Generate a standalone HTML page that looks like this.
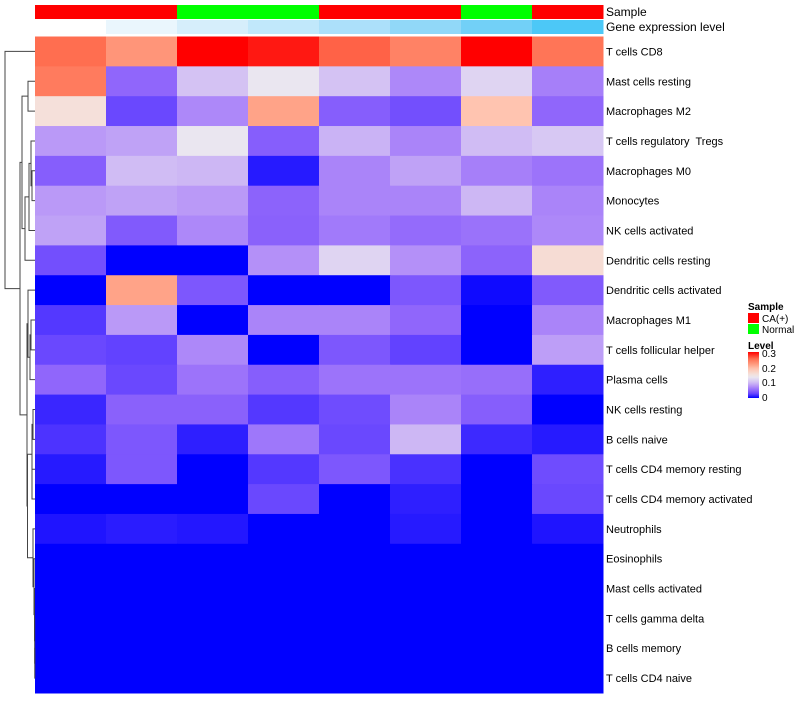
<!DOCTYPE html>
<html><head><meta charset="utf-8"><style>
body{margin:0;background:#fff;font-family:"Liberation Sans",sans-serif}
text{white-space:pre}
</style></head><body>
<svg width="800" height="700" xmlns="http://www.w3.org/2000/svg">
<defs><linearGradient id="lg" x1="0" y1="1" x2="0" y2="0"></linearGradient></defs>
<g id="hm"></g>
<g id="ann"></g>
<g id="dend" fill="none" stroke="#444" stroke-width="1"></g>
<g id="labels" font-size="11" fill="#000"></g>
<text x="606" y="16" font-size="12">Sample</text>
<text x="606" y="31" font-size="12">Gene expression level</text>
<g font-size="10">
<text x="748" y="310" font-weight="bold">Sample</text>
<rect x="748" y="313" width="11" height="10" fill="#ff0000"/>
<text x="762" y="322">CA(+)</text>
<rect x="748" y="324" width="11" height="10" fill="#00ff00"/>
<text x="762" y="333">Normal</text>
<text x="748" y="349" font-weight="bold">Level</text>
<rect x="748" y="352" width="11" height="46" fill="url(#lg)"/>
<text x="762" y="357">0.3</text>
<text x="762" y="372">0.2</text>
<text x="762" y="386">0.1</text>
<text x="762" y="401">0</text>
</g>
</svg>
<script>
const rowNames=["T cells CD8","Mast cells resting","Macrophages M2","T cells regulatory  Tregs","Macrophages M0","Monocytes","NK cells activated","Dendritic cells resting","Dendritic cells activated","Macrophages M1","T cells follicular helper","Plasma cells","NK cells resting","B cells naive","T cells CD4 memory resting","T cells CD4 memory activated","Neutrophils","Eosinophils","Mast cells activated","T cells gamma delta","B cells memory","T cells CD4 naive"];
const values=[
[0.255,0.225,0.3,0.29,0.26,0.24,0.3,0.25],
[0.245,0.05,0.105,0.135,0.105,0.07,0.12,0.065],
[0.155,0.03,0.07,0.215,0.045,0.035,0.19,0.05],
[0.08,0.085,0.135,0.045,0.095,0.068,0.1,0.11],
[0.045,0.1,0.097,0.01,0.068,0.085,0.065,0.058],
[0.08,0.085,0.08,0.048,0.068,0.068,0.097,0.068],
[0.085,0.042,0.07,0.047,0.062,0.053,0.057,0.07],
[0.035,0,0,0.075,0.12,0.075,0.048,0.16],
[0,0.215,0.04,0,0,0.04,0.004,0.042],
[0.022,0.08,0,0.068,0.068,0.05,0,0.068],
[0.03,0.026,0.07,0,0.04,0.026,0,0.083],
[0.05,0.03,0.058,0.045,0.058,0.058,0.055,0.012],
[0.015,0.047,0.047,0.022,0.033,0.068,0.045,0],
[0.02,0.04,0.012,0.06,0.03,0.097,0.016,0.01],
[0.01,0.04,0,0.022,0.04,0.019,0,0.033],
[0,0,0,0.03,0,0.012,0,0.03],
[0.008,0.011,0.009,0,0,0.01,0,0.008],
[0,0,0,0,0,0,0,0],[0,0,0,0,0,0,0,0],[0,0,0,0,0,0,0,0],[0,0,0,0,0,0,0,0],[0,0,0,0,0,0,0,0]];
const sampleGroups=["CA(+)","CA(+)","Normal","Normal","CA(+)","CA(+)","Normal","CA(+)"];
const geneLevels=[0,1,2,3,4,5,6,7];
const tree=[5,0,[20,[22,[28,1,2],[25,[29,[31,3,[32,4,5]],6],7]],[27,[28,8,[30,[31,9,10],11]],[27.5,[32,[33,12,13],[32,14,15]],[33,16,[34,17,[34.5,18,[34.7,19,[34.8,20,21]]]]]]]]];

const NS="http://www.w3.org/2000/svg";
const x0=35,colW=71,y0=36.5,rowH=(693-36.5)/22,vmax=0.3;
const xPos=c=>x0+c*colW, yPos=r=>y0+r*rowH;
// colour scale anchors (palette)
const stopsV=[0,0.025,0.05,0.075,0.1,0.135,0.155,0.19,0.22,0.255,0.3];
const stopsC=[[0,0,255],[96,64,255],[144,102,251],[180,144,248],[208,188,244],[234,230,240],[245,224,218],[255,196,176],[255,156,128],[255,110,80],[255,0,0]];
function color(v){v=Math.max(0,Math.min(vmax,v));
 for(let i=1;i<stopsV.length;i++){if(v<=stopsV[i]){const u=(v-stopsV[i-1])/(stopsV[i]-stopsV[i-1]);
  const c=stopsC[i-1].map((a,k)=>Math.round(a+(stopsC[i][k]-a)*u));return `rgb(${c})`;}}
 return 'rgb(255,0,0)';}
function mk(tag,attrs,parent){const e=document.createElementNS(NS,tag);for(const k in attrs)e.setAttribute(k,attrs[k]);parent.appendChild(e);return e;}
const lg=document.getElementById('lg');
for(let i=0;i<=20;i++){mk('stop',{offset:i/20,'stop-color':color(vmax*i/20)},lg);}
const hm=document.getElementById('hm');
values.forEach((row,r)=>row.forEach((v,c)=>{
 const e=mk('rect',{x:xPos(c),y:yPos(r),width:colW+0.5,height:rowH+0.5,fill:color(v)},hm);
 
 
}));
const ann=document.getElementById('ann');
const geneColors=["#ffffff","#eaf6fd","#d6eefb","#c1e8fb","#ace0fa","#91d8f8","#72d0f7","#4cc8f7"];
sampleGroups.forEach((s,c)=>{
 const e=mk('rect',{x:xPos(c),y:5,width:colW+0.5,height:14,fill:s==="Normal"?"#00ff00":"#ff0000"},ann);
 
 
 const g=mk('rect',{x:xPos(c),y:20,width:colW+0.5,height:14,fill:geneColors[geneLevels[c]]},ann);
 
 
});
const lab=document.getElementById('labels');
rowNames.forEach((n,r)=>{
 const t=mk('text',{x:606,y:yPos(r)+rowH/2+4},lab);t.textContent=n;
 
 
});
const dend=document.getElementById('dend');
function draw(node){
 if(typeof node==='number')return {x:x0,y:yPos(node)+rowH/2};
 const [h,a,b]=node;const A=draw(a),B=draw(b);
 const p=mk('path',{d:`M${A.x},${A.y}H${h}V${B.y}H${B.x}`},dend);
 
 
 return {x:h,y:(A.y+B.y)/2};
}
draw(tree);
</script>
</body></html>
